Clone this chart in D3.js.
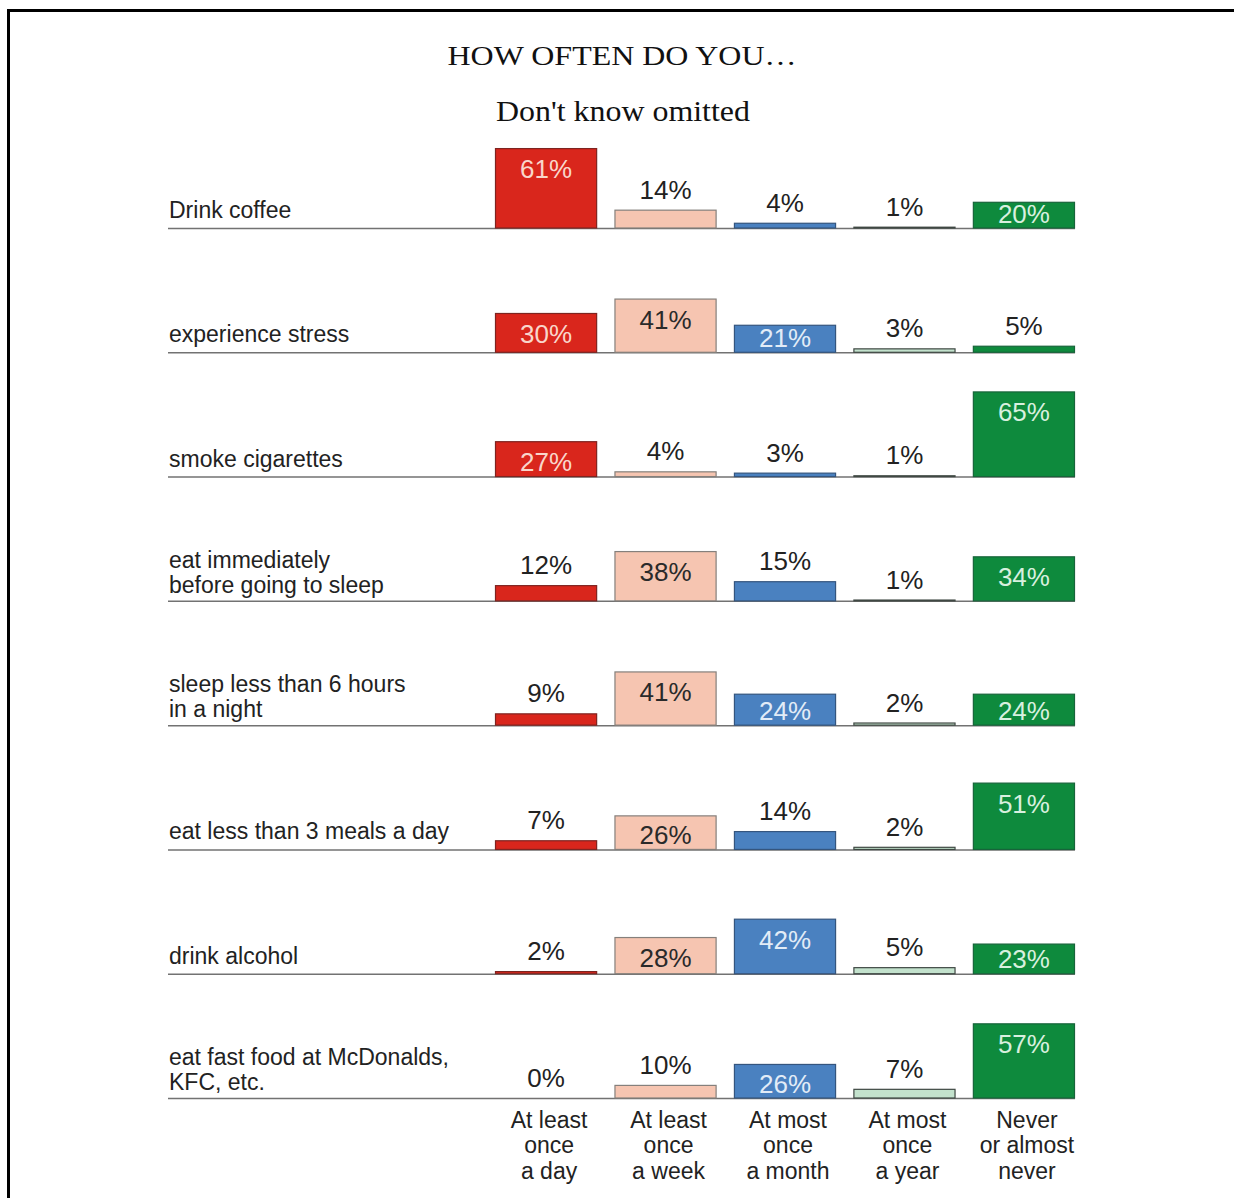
<!DOCTYPE html>
<meta charset="utf-8">

<style>
body { margin: 0; background: #fff; }
svg { display: block; }
</style>

<svg id="chart" width="1234" height="1198"></svg>

<script src="https://d3js.org/d3.v7.min.js"></script>

<script>
// questions, top to bottom (multi-line labels split on \n)
var questions = [
  "Drink coffee",
  "experience stress",
  "smoke cigarettes",
  "eat immediately\nbefore going to sleep",
  "sleep less than 6 hours\nin a night",
  "eat less than 3 meals a day",
  "drink alcohol",
  "eat fast food at McDonalds,\nKFC, etc."
]

var frequencies = [
  "At least\nonce\na day",
  "At least\nonce\na week",
  "At most\nonce\na month",
  "At most\nonce\na year",
  "Never\nor almost\nnever"
]

// percent per question, one value per frequency
var atLeastDaily  = [61, 30, 27, 12,  9,  7,  2,  0]
var atLeastWeekly = [14, 41,  4, 38, 41, 26, 28, 10]
var atMostMonthly = [ 4, 21,  3, 15, 24, 14, 42, 26]
var atMostYearly  = [ 1,  3,  1,  1,  2,  2,  5,  7]
var never         = [20,  5, 65, 34, 24, 51, 23, 57]

var series = [atLeastDaily, atLeastWeekly, atMostMonthly, atMostYearly, never]

var fills   = ["#d9261c", "#f6c5b1", "#4a81c0", "#c3e2cd", "#0e8a3d"]
var strokes = ["#7e2420", "#85807c", "#34557e", "#3f4843", "#17643a"]
var inLabel = ["#f9d6cb", "#2a2a2a", "#e2ecf7", "#2a2a2a", "#d8f0df"]

var svg = d3.select("#chart")

// frame (right and bottom edges run off the page)
svg.append("path")
  .attr("d", "M8.5,1198 L8.5,10.5 L1240,10.5")
  .attr("fill", "none")
  .attr("stroke", "#000")
  .attr("stroke-width", 3)

var serif = "'Liberation Serif', 'Times New Roman', serif"

svg.append("text")
  .attr("x", 622).attr("y", 65)
  .attr("text-anchor", "middle")
  .attr("font-family", serif)
  .attr("font-size", 28)
  .attr("textLength", 349)
  .attr("lengthAdjust", "spacingAndGlyphs")
  .attr("fill", "#111")
  .text("HOW OFTEN DO YOU\u2026")

svg.append("text")
  .attr("x", 623).attr("y", 121)
  .attr("text-anchor", "middle")
  .attr("font-family", serif)
  .attr("font-size", 29)
  .attr("textLength", 254)
  .attr("lengthAdjust", "spacingAndGlyphs")
  .attr("fill", "#111")
  .text("Don't know omitted")

var font = "'Liberation Sans', Arial, sans-serif"

// row baselines
var rowY = d3.scalePoint()
  .domain(d3.range(questions.length))
  .range([228, 1098])

var colX = d3.scaleBand()
  .domain(d3.range(frequencies.length))
  .range([495, 1075])
  .paddingInner(0.145)
  .paddingOuter(0)

var h = d3.scaleLinear().domain([0, 100]).range([0, 131])

var rows = svg.selectAll("g.row")
  .data(questions)
  .enter().append("g")
    .attr("class", "row")
    .attr("transform", function (d, i) { return "translate(0," + rowY(i) + ")" })

rows.append("line")
  .attr("x1", 168).attr("x2", 1075)
  .attr("y1", 0.5).attr("y2", 0.5)
  .attr("stroke", "#727272")
  .attr("stroke-width", 1.5)

rows.append("text")
  .attr("font-family", font)
  .attr("font-size", 23)
  .attr("fill", "#222")
  .each(function (d) {
    var lines = d.split("\n")
    var t = d3.select(this)
    var last = lines.length > 1 ? -8 : -10
    lines.forEach(function (line, k) {
      t.append("tspan")
        .attr("x", 169)
        .attr("y", last - (lines.length - 1 - k) * 25)
        .text(line)
    })
  })

rows.each(function (q, i) {
  var g = d3.select(this)
  series.forEach(function (vals, c) {
    var v = vals[i]
    var bh = h(v)
    g.append("rect")
      .attr("x", colX(c) + 0.5)
      .attr("y", -bh + 0.5)
      .attr("width", colX.bandwidth() - 1)
      .attr("height", Math.max(bh - 0.5, 0.01))
      .attr("fill", fills[c])
      .attr("stroke", v > 0 ? strokes[c] : "none")
      .attr("stroke-width", 1.2)

    var inside = v >= 20
    // inside labels sit near the top, but never lower than the bar bottom allows
    var y = inside ? Math.min(-bh + 21, -14.5) + 9 : -bh - 11
    g.append("text")
      .attr("x", colX(c) + colX.bandwidth() / 2)
      .attr("y", y)
      .attr("text-anchor", "middle")
      .attr("font-family", font)
      .attr("font-size", 26)
      .attr("fill", inside ? inLabel[c] : "#222")
      .text(v + "%")
  })
})

// frequency labels under the last row
var base = rowY(questions.length - 1)
svg.selectAll("text.freq")
  .data(frequencies)
  .enter().append("text")
    .attr("class", "freq")
    .attr("text-anchor", "middle")
    .attr("font-family", font)
    .attr("font-size", 23)
    .attr("fill", "#222")
    .each(function (d, c) {
      var t = d3.select(this)
      d.split("\n").forEach(function (line, k) {
        t.append("tspan")
          .attr("x", colX(c) + colX.bandwidth() / 2 + 3)
          .attr("y", base + 29.5 + k * 25.5)
          .text(line)
      })
    })
</script>
